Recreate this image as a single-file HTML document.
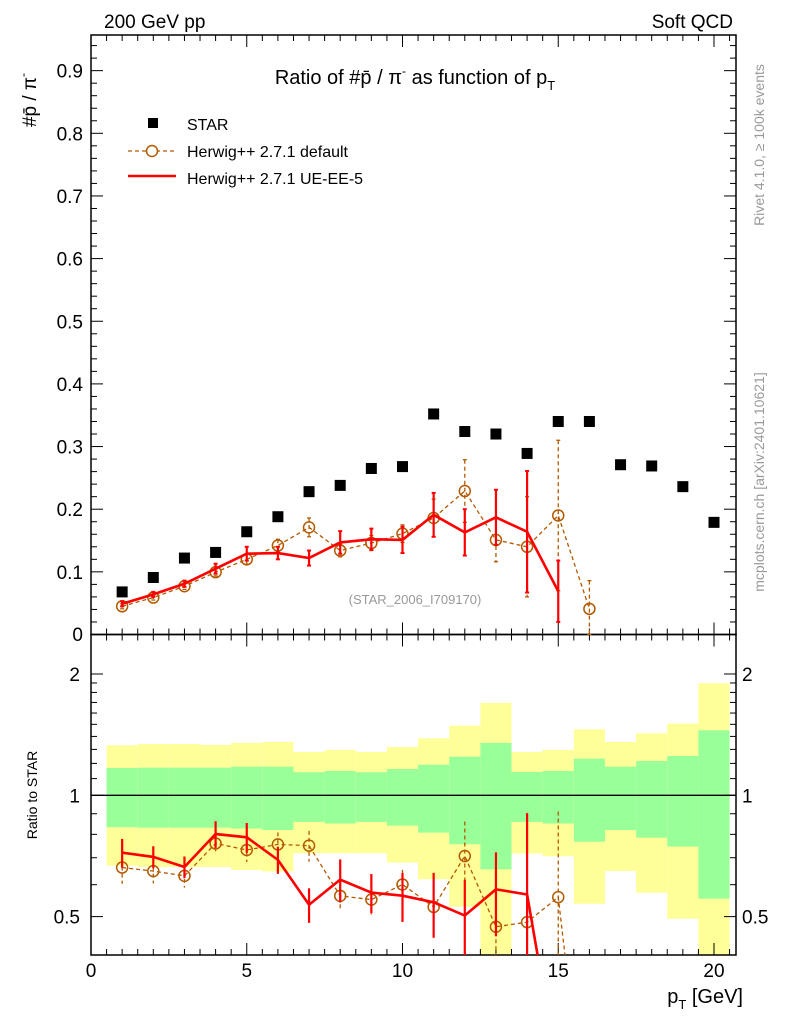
<!DOCTYPE html>
<html><head><meta charset="utf-8"><style>
html,body{margin:0;background:#fff;width:786px;height:1024px;overflow:hidden}
svg{display:block;font-family:"Liberation Sans",sans-serif}
</style></head><body>
<svg id="c" width="786" height="1024" viewBox="0 0 786 1024" style="position:absolute;left:0;top:0"></svg>
<script>
const bins=[1,2,3,4,5,6,7,8,9,10,11,12,13,14,15,16,17,18,19,20];
const starVals=[0.068,0.091,0.122,0.131,0.164,0.188,0.228,0.238,0.265,0.268,0.352,0.324,0.320,0.289,0.340,0.340,0.271,0.269,0.236,0.179];
const defX=[1,2,3,4,5,6,7,8,9,10,11,12,13,14,15,16];
const defVals=[0.045,0.059,0.077,0.0995,0.120,0.142,0.171,0.134,0.146,0.161,0.186,0.229,0.151,0.140,0.190,0.041];
const defErr=[0.004,0.004,0.005,0.006,0.008,0.010,0.015,0.010,0.012,0.014,0.030,0.050,0.035,0.080,0.120,0.045];
const ueX=[1,2,3,4,5,6,7,8,9,10,11,12,13,14,15];
const ueVals=[0.049,0.064,0.081,0.105,0.129,0.130,0.122,0.147,0.152,0.151,0.191,0.163,0.187,0.164,0.069];
const ueErr=[0.004,0.004,0.005,0.008,0.011,0.010,0.012,0.018,0.017,0.021,0.035,0.037,0.044,0.097,0.049];
const yellowUp=[1.331,1.341,1.341,1.334,1.349,1.356,1.281,1.296,1.281,1.318,1.385,1.489,1.695,1.281,1.296,1.458,1.356,1.425,1.506,1.897];
const greenUp=[1.169,1.171,1.171,1.171,1.178,1.178,1.141,1.149,1.141,1.162,1.191,1.247,1.349,1.143,1.149,1.233,1.178,1.217,1.252,1.450];
const greenLo=[0.833,0.831,0.831,0.831,0.827,0.820,0.859,0.851,0.859,0.841,0.808,0.756,0.655,0.859,0.851,0.767,0.820,0.785,0.746,0.554];
const yellowLo=[0.669,0.664,0.664,0.664,0.653,0.647,0.718,0.718,0.718,0.681,0.619,0.529,0.30,0.717,0.706,0.538,0.649,0.573,0.494,0.30];
const xTicks=[0,5,10,15,20];
const yTicks=[0.1,0.2,0.3,0.4,0.5,0.6,0.7,0.8,0.9];
const rTicks=[0.5,1,2];

const L=91,R=736,T=35,MB=634.5,RB=955;
const NS='http://www.w3.org/2000/svg';
const svg=document.getElementById('c');
const X=v=>L+v*31.15;
const Y=v=>MB-v*626.5;
const RYraw=v=>795.3-Math.log10(v)*403;
const RY=v=>Math.min(RB,Math.max(MB,RYraw(v)));
function el(tag,attrs,parent){const e=document.createElementNS(NS,tag);for(const k in attrs)e.setAttribute(k,attrs[k]);(parent||svg).appendChild(e);return e;}
function txt(s,attrs,parent){const e=el('text',attrs,parent);e.textContent=s;return e;}
function clipPoly(pts,ymin,ymax){
  let d='';let pen=false;
  for(let i=0;i<pts.length-1;i++){
    let [x1,y1]=pts[i],[x2,y2]=pts[i+1];
    let t0=0,t1=1;const dy=y2-y1;
    if(dy!==0){const ta=(ymin-y1)/dy,tb=(ymax-y1)/dy;t0=Math.max(t0,Math.min(ta,tb));t1=Math.min(t1,Math.max(ta,tb));}
    else if(y1<ymin||y1>ymax){pen=false;continue;}
    if(t0>t1){pen=false;continue;}
    const ax=x1+(x2-x1)*t0,ay=y1+dy*t0,bx=x1+(x2-x1)*t1,by=y1+dy*t1;
    if(!pen||t0>0)d+='M'+ax+','+ay;
    d+='L'+bx+','+by;pen=(t1===1);
  }
  return d;
}

const gBands=el('g',{});


bins.forEach((b,i)=>{
  const x0=X(b-0.5),w=X(b+0.5)-x0;
  const y1=el('rect',{x:x0,y:RY(yellowUp[i]),width:w,height:RY(yellowLo[i])-RY(yellowUp[i]),fill:'#ffff99'},gBands);
  
  
  const g1=el('rect',{x:x0,y:RY(greenUp[i]),width:w,height:RY(greenLo[i])-RY(greenUp[i]),fill:'#99ff99'},gBands);
  
  
});
const one=el('line',{x1:L,x2:R,y1:RY(1),y2:RY(1),stroke:'#000','stroke-width':1.3});



const f1=el('rect',{x:L,y:T,width:R-L,height:MB-T,fill:'none',stroke:'#000','stroke-width':1.5});


const f2=el('rect',{x:L,y:MB,width:R-L,height:RB-MB,fill:'none',stroke:'#000','stroke-width':1.5});



for(let v=0;v<=20.5;v+=0.5){
  const maj=(v%5===0);const len=maj?12:6;
  [[T,1],[MB,-1],[MB,1],[RB,-1]].forEach(([y,d])=>el('line',{x1:X(v),x2:X(v),y1:y,y2:y+d*len,stroke:'#000','stroke-width':1}));
}
xTicks.forEach(v=>{const t=txt(String(v),{x:X(v),y:977,'font-size':19,'text-anchor':'middle'});

});
for(let k=0;k<=47;k++){const v=k*0.02;const y=Y(v);if(y<T)break;const maj=(k%5===0);const len=maj?12:6;
  el('line',{x1:L,x2:L+len,y1:y,y2:y,stroke:'#000'});el('line',{x1:R,x2:R-len,y1:y,y2:y,stroke:'#000'});}
yTicks.forEach(v=>{const t=txt(v.toFixed(1),{x:83,y:Y(v)+7,'font-size':19,'text-anchor':'end'});

});
txt('0',{x:83,y:641,'font-size':19,'text-anchor':'end'});
[0.4,0.5,0.6,0.7,0.8,0.9,1,1.1,1.2,1.3,1.4,1.5,1.6,1.7,1.8,1.9,2].forEach(v=>{const y=RYraw(v);if(y>RB||y<MB)return;const maj=(v===0.5||v===1||v===2);const len=maj?12:6;
  el('line',{x1:L,x2:L+len,y1:y,y2:y,stroke:'#000'});el('line',{x1:R,x2:R-len,y1:y,y2:y,stroke:'#000'});});
rTicks.forEach(v=>{const a=txt(String(v),{x:80,y:RYraw(v)+7,'font-size':19,'text-anchor':'end'});


const b=txt(String(v),{x:742,y:RYraw(v)+7,'font-size':19});

});

const gm=el('g',{});
let p='';defX.forEach((x,i)=>{p+=(i?'L':'M')+X(x)+','+Y(defVals[i]);});
const dl=el('path',{d:p,fill:'none',stroke:'#b35900','stroke-width':1.3,'stroke-dasharray':'4,3'},gm);


defX.forEach((x,i)=>{const cx=X(x),y1=Y(defVals[i]+defErr[i]),y2=Y(Math.max(0,defVals[i]-defErr[i]));
  el('line',{x1:cx,x2:cx,y1:y1,y2:y2,stroke:'#b35900','stroke-width':1.3,'stroke-dasharray':'4,3'},gm);
  el('line',{x1:cx-2,x2:cx+2,y1:y1,y2:y1,stroke:'#b35900','stroke-width':1.3},gm);
  el('line',{x1:cx-2,x2:cx+2,y1:y2,y2:y2,stroke:'#b35900','stroke-width':1.3},gm);
  const c=el('circle',{cx:cx,cy:Y(defVals[i]),r:5.5,fill:'none',stroke:'#b35900','stroke-width':1.5},gm);
  
  });
p='';ueX.forEach((x,i)=>{p+=(i?'L':'M')+X(x)+','+Y(ueVals[i]);});
const ul=el('path',{d:p,fill:'none',stroke:'#ff0000','stroke-width':2.6},gm);


ueX.forEach((x,i)=>{const cx=X(x),y1=Y(ueVals[i]+ueErr[i]),y2=Y(Math.max(0,ueVals[i]-ueErr[i]));
  const e=el('line',{x1:cx,x2:cx,y1:y1,y2:y2,stroke:'#ff0000','stroke-width':2.2},gm);
  
  
  el('line',{x1:cx-2,x2:cx+2,y1:y1,y2:y1,stroke:'#ff0000','stroke-width':2},gm);
  el('line',{x1:cx-2,x2:cx+2,y1:y2,y2:y2,stroke:'#ff0000','stroke-width':2},gm);});
bins.forEach((b,i)=>{const r=el('rect',{x:X(b)-5.5,y:Y(starVals[i])-5.5,width:11,height:11,fill:'#000'},gm);
  
  });

const gr=el('g',{});
const dPts=defX.map((x,i)=>[X(x),RYraw(defVals[i]/starVals[i])]);
const rdl=el('path',{d:clipPoly(dPts,MB,RB),fill:'none',stroke:'#b35900','stroke-width':1.3,'stroke-dasharray':'4,3'},gr);


defX.forEach((x,i)=>{const s=starVals[i],cx=X(x);const lo=Math.max(0.01,(defVals[i]-defErr[i])/s);
  el('line',{x1:cx,x2:cx,y1:RY((defVals[i]+defErr[i])/s),y2:RY(lo),stroke:'#b35900','stroke-width':1.3,'stroke-dasharray':'4,3'},gr);
  const yy=RYraw(defVals[i]/s);if(yy>RB-3)return;
  const c=el('circle',{cx:cx,cy:yy,r:5.5,fill:'none',stroke:'#b35900','stroke-width':1.5},gr);
  
  });
const uPts=ueX.map((x,i)=>[X(x),RYraw(ueVals[i]/starVals[i])]);
const rl=el('path',{d:clipPoly(uPts,MB,RB),fill:'none',stroke:'#ff0000','stroke-width':2.6},gr);


ueX.forEach((x,i)=>{const s=starVals[i],cx=X(x);const lo=Math.max(0.01,(ueVals[i]-ueErr[i])/s);
  el('line',{x1:cx,x2:cx,y1:RY((ueVals[i]+ueErr[i])/s),y2:RY(lo),stroke:'#ff0000','stroke-width':2.2},gr);});
</script>
<div style="position:absolute;left:0;top:0;width:786px;height:1024px;pointer-events:none">
<svg width="786" height="1024" style="font-family:'Liberation Sans',sans-serif">
<text x="104" y="28" font-size="19">200 GeV pp</text>
<text x="733" y="28" font-size="19" text-anchor="end">Soft QCD</text>
<text x="415" y="84" font-size="20" text-anchor="middle">Ratio of #p̄ / π<tspan font-size="12" dy="-9">-</tspan><tspan dy="9"> as function of p</tspan><tspan font-size="13" dy="6">T</tspan></text>
<g>
<rect x="148" y="118" width="10" height="10" fill="#000"/>
<text x="187" y="130" font-size="16">STAR</text>
<line x1="128" x2="176" y1="151" y2="151" stroke="#b35900" stroke-width="1.3" stroke-dasharray="4,3"/>
<circle cx="152" cy="151" r="5.5" fill="#fff" stroke="#b35900" stroke-width="1.5"/>
<text x="187" y="157" font-size="16">Herwig++ 2.7.1 default</text>
<line x1="128" x2="176" y1="176" y2="176" stroke="#ff0000" stroke-width="2.6"/>
<text x="187" y="184" font-size="16">Herwig++ 2.7.1 UE-EE-5</text>
</g>
<text x="415" y="604" font-size="13" fill="#999" text-anchor="middle">(STAR_2006_I709170)</text>
<text transform="translate(36,100) rotate(-90)" font-size="19" text-anchor="middle">#p̄ / π<tspan font-size="12" dy="-9">-</tspan></text>
<text transform="translate(37,795) rotate(-90)" font-size="14" text-anchor="middle">Ratio to STAR</text>
<text x="743" y="1003" font-size="20" text-anchor="end">p<tspan font-size="13" dy="6">T</tspan><tspan dy="-6"> [GeV]</tspan></text>
<text transform="translate(764,145) rotate(-90)" font-size="14" fill="#999" text-anchor="middle">Rivet 4.1.0, ≥ 100k events</text>
<text transform="translate(764,482) rotate(-90)" font-size="14" fill="#999" text-anchor="middle">mcplots.cern.ch [arXiv:2401.10621]</text>
</svg></div>
</body></html>
